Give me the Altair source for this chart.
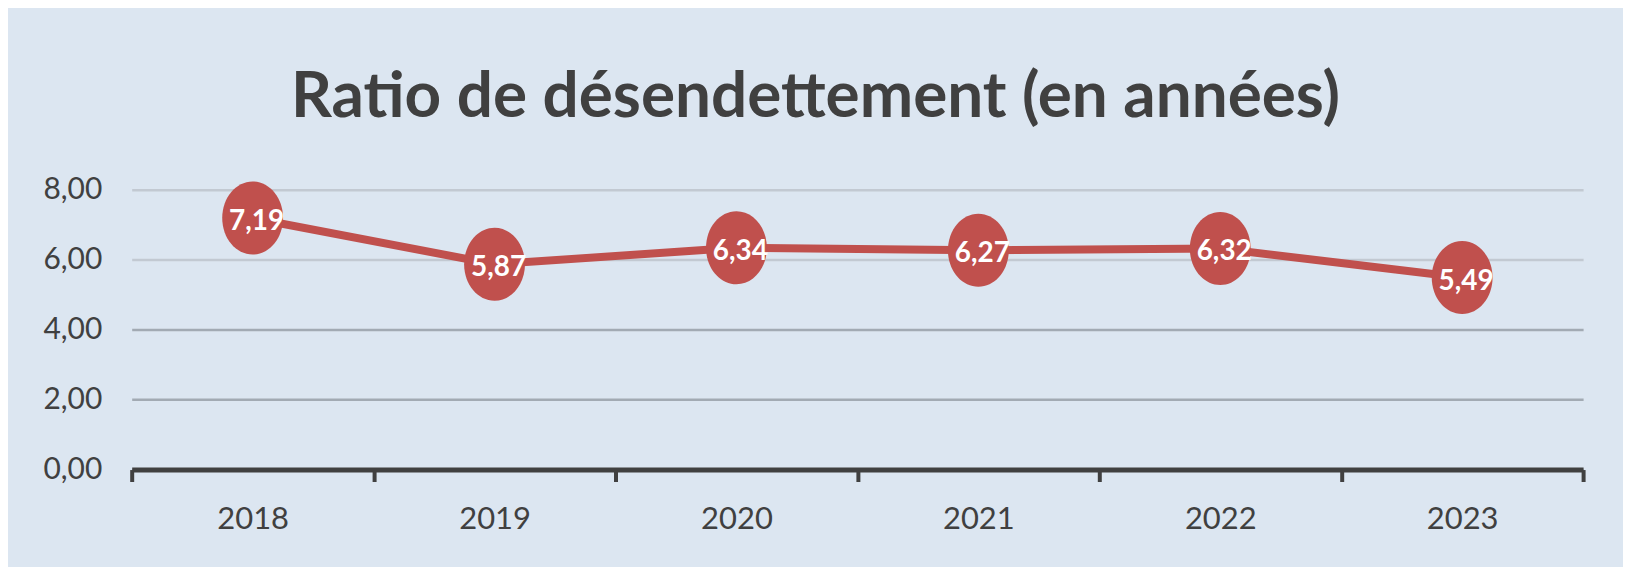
import altair as alt
import pandas as pd

years = ["2018", "2019", "2020", "2021", "2022", "2023"]
ratios = [7.19, 5.87, 6.34, 6.27, 6.32, 5.49]
labels = ["7,19", "5,87", "6,34", "6,27", "6,32", "5,49"]
y_ticks = [0, 2, 4, 6, 8]
title_text = "Ratio de désendettement (en années)"

df = pd.DataFrame({"year": years, "ratio": ratios, "label": labels})

RED = "#C0504D"
DARK = "#404040"
FONT = "Lato"

x_enc = alt.X(
    "year:O",
    scale=alt.Scale(type="band", paddingInner=0, paddingOuter=0),
    axis=alt.Axis(
        title=None, labelAngle=0, labelFont=FONT, labelFontSize=31,
        labelColor=DARK, labelPadding=23, domainColor=DARK, domainWidth=5,
        tickColor=DARK, tickWidth=4, tickSize=12, tickBand="extent",
        grid=False,
    ),
)
y_enc = alt.Y(
    "ratio:Q",
    scale=alt.Scale(domain=[0, 8], nice=False),
    axis=alt.Axis(
        title=None, values=y_ticks, labelFont=FONT, labelFontSize=30,
        labelColor=DARK, labelPadding=30, domain=False, ticks=False,
        labelExpr="replace(format(datum.value, '.2f'), '.', ',')",
        gridColor={"condition": {"test": "datum.value >= 6", "value": "#c2c9d2"},
                   "value": "#a2aab3"},
        gridWidth=2.5,
    ),
)

base = alt.Chart(df).encode(x=x_enc, y=y_enc)

line = base.mark_line(color=RED, strokeWidth=8)
ellipse = "M -1 0 A 1 1.2 0 1 0 1 0 A 1 1.2 0 1 0 -1 0 Z"
points = base.mark_point(shape=ellipse, filled=True, fill=RED, opacity=1, size=3721, strokeWidth=0)
text = base.mark_text(color="white", font=FONT, fontWeight="bold", fontSize=28,
                      dx=4, dy=4, align="center", baseline="middle").encode(text="label:N")

chart = alt.layer(line, points, text).properties(
    width=1455,
    height=280.5,
    autosize=alt.AutoSizeParams(type="none"),
    padding={"left": 124, "top": 181.5, "right": 40, "bottom": 97},
    background="#dce6f1",
    title=alt.TitleParams(
        title_text, font=FONT, fontSize=64, fontWeight="bold", color=DARK,
        anchor="middle", dx=-42, dy=64, baseline="alphabetic", offset=58,
    ),
).configure_view(strokeWidth=0)

chart.save("out.html", embed_options={"renderer": "svg", "actions": False})
